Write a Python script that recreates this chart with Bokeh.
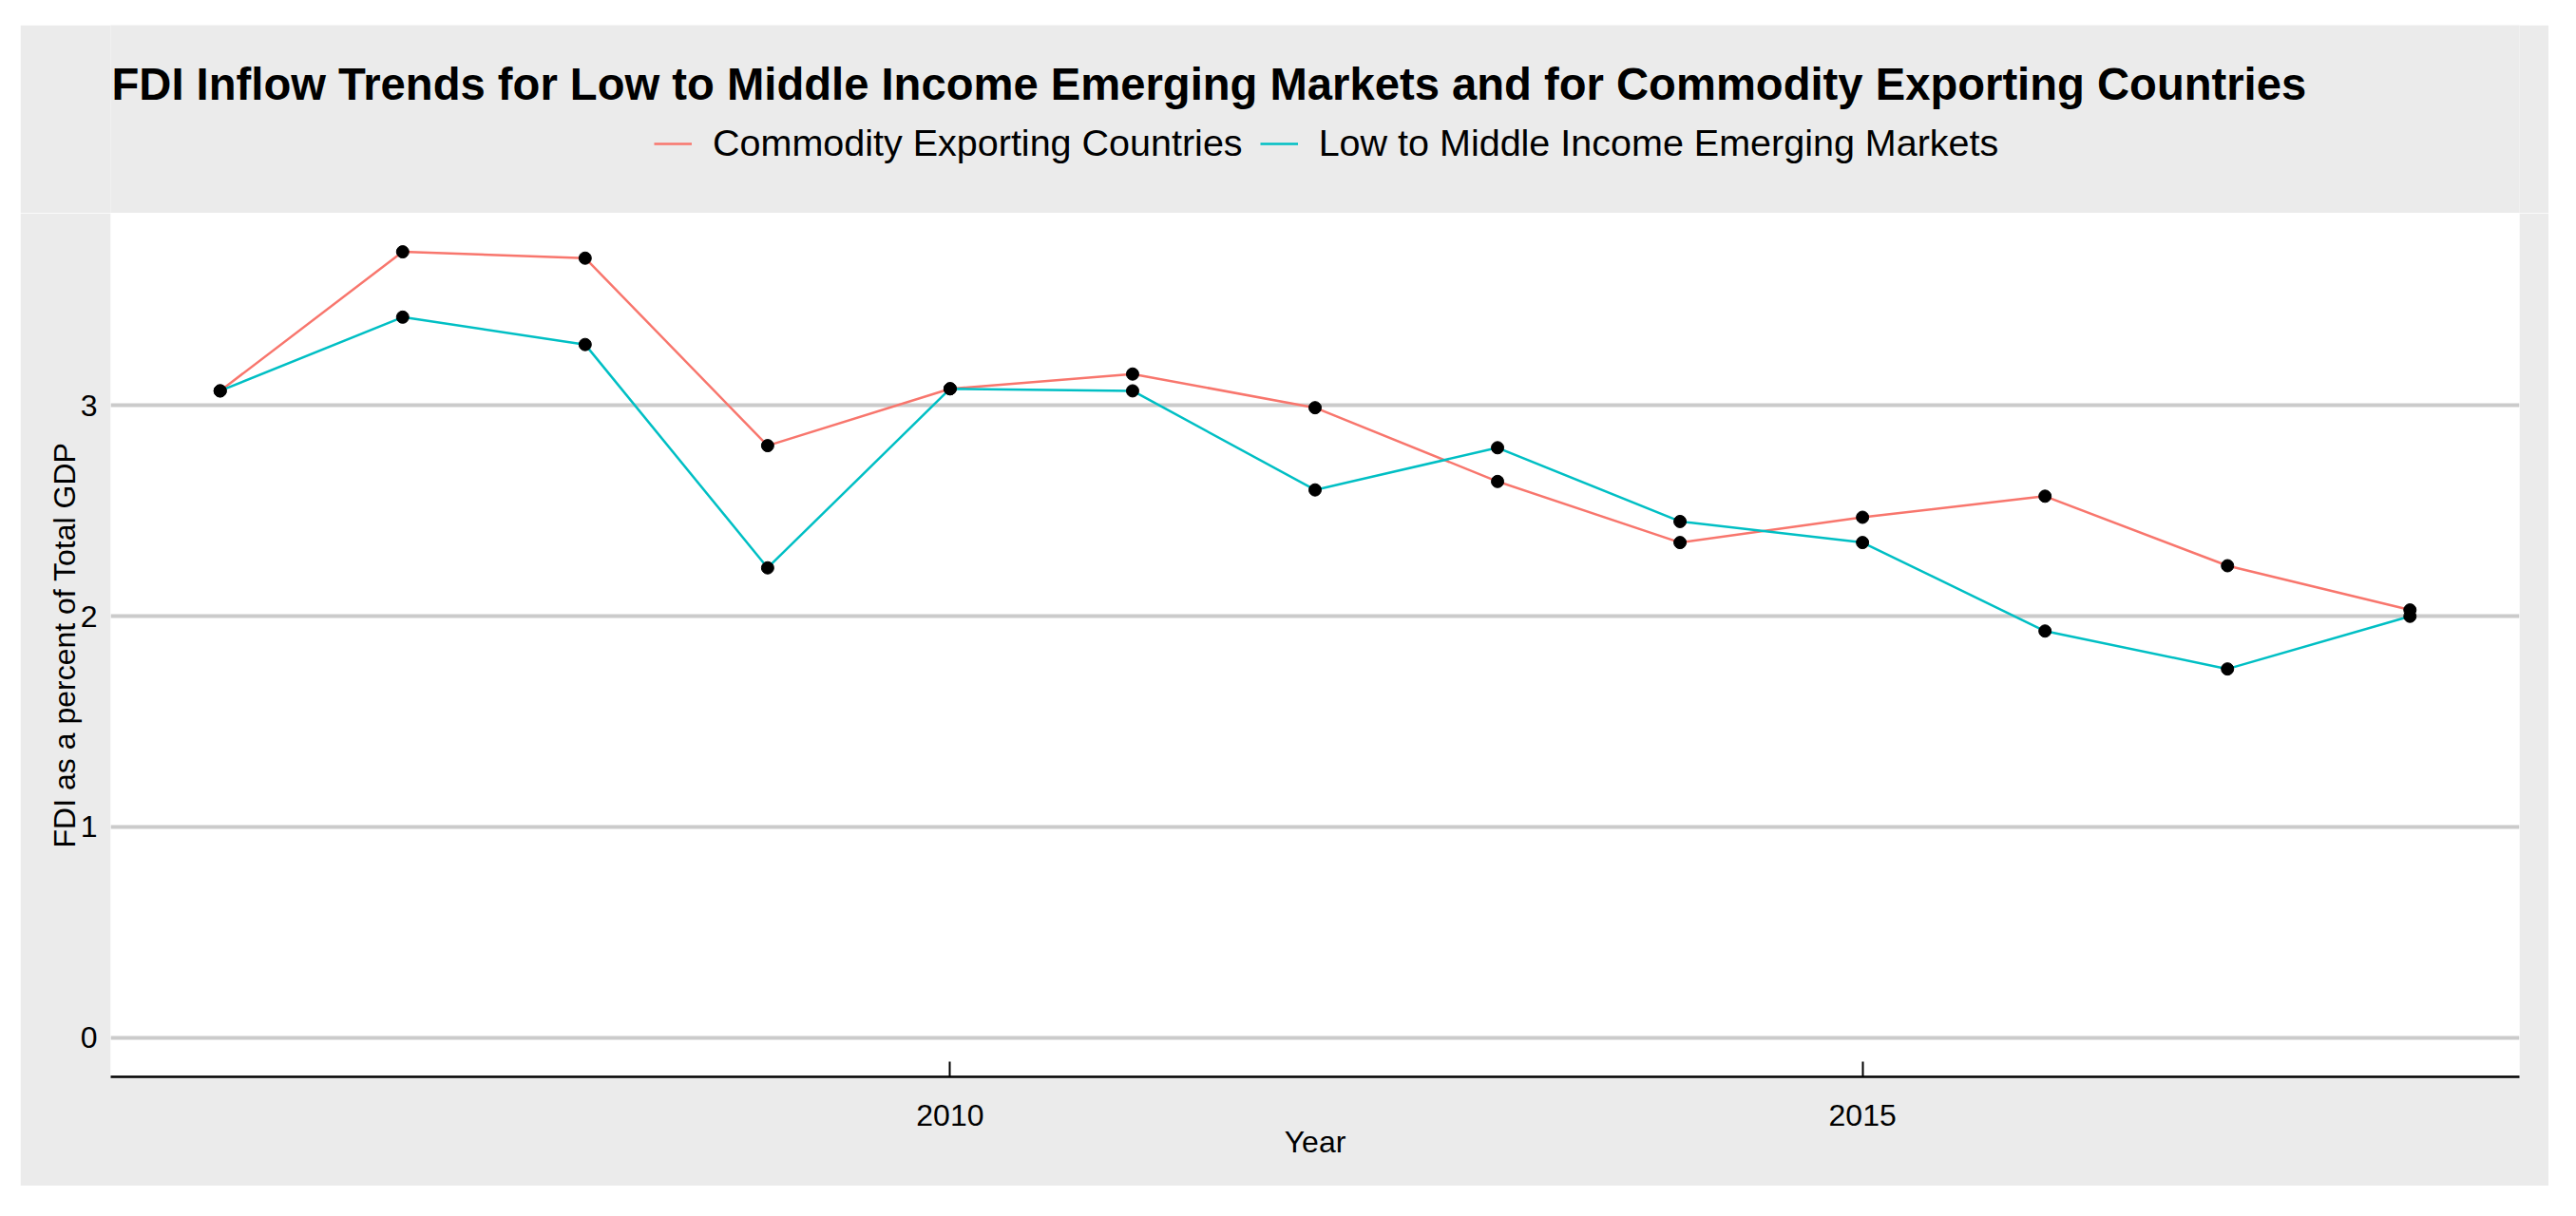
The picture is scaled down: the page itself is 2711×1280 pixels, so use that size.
from bokeh.plotting import figure
from bokeh.models import (Range1d, FixedTicker, Legend, LegendItem, Spacer, Label)
from bokeh.layouts import column, row
from bokeh.embed import file_html
from bokeh.resources import INLINE

# ---- data ----
years = [2006, 2007, 2008, 2009, 2010, 2011, 2012, 2013, 2014, 2015, 2016, 2017, 2018]
commodity = [3.07, 3.73, 3.70, 2.81, 3.08, 3.15, 2.99, 2.64, 2.35, 2.47, 2.57, 2.24, 2.03]
low_mid = [3.07, 3.42, 3.29, 2.23, 3.08, 3.07, 2.60, 2.80, 2.45, 2.35, 1.93, 1.75, 2.00]
series_names = ["Commodity Exporting Countries", "Low to Middle Income Emerging Markets"]
series_colors = ["#F8766D", "#00BFC4"]
x_ticks = [2010, 2015]
y_ticks = [0, 1, 2, 3]
title_text = "FDI Inflow Trends for Low to Middle Income Emerging Markets and for Commodity Exporting Countries"
x_label = "Year"
y_label = "FDI as a percent of Total GDP"

FONT = "Liberation Sans"
BG = "#EBEBEB"
W = 2661
HEADER_H = 198
MAIN_H = 1024

# ---------------- header: title + legend ----------------
hdr = figure(width=W, height=HEADER_H, output_backend="svg", toolbar_location=None,
             x_range=Range1d(0, 1), y_range=Range1d(0, 1),
             x_axis_type=None, y_axis_type=None,
             min_border_left=0, min_border_right=0, min_border_top=0, min_border_bottom=0)
hdr.background_fill_color = BG
hdr.border_fill_color = BG
hdr.outline_line_color = None
hdr.grid.visible = False

title = Label(x=1, y=136, x_units="screen", y_units="screen", text=title_text,
              text_font=FONT, text_font_style="bold", text_font_size="47.2px",
              text_color="black", text_align="left", text_baseline="alphabetic")
hdr.add_layout(title)

# legend key lines (kept outside the header's visible range; only their keys are shown)
k1 = hdr.line(x=[5, 6], y=[5, 6], line_color=series_colors[0], line_width=2.5)
k2 = hdr.line(x=[5, 6], y=[5, 6], line_color=series_colors[1], line_width=2.5)
legend = Legend(items=[LegendItem(label=series_names[0], renderers=[k1]),
                       LegendItem(label=series_names[1], renderers=[k2])],
                orientation="horizontal", location=(572, 51),
                label_text_font=FONT, label_text_font_size="39.5px", label_text_color="black",
                glyph_width=40, glyph_height=30, label_standoff=22, spacing=18,
                padding=0, margin=0, border_line_color=None, background_fill_alpha=0)
hdr.add_layout(legend, "center")

# ---------------- main plot ----------------
p = figure(width=W, height=MAIN_H, output_backend="svg", toolbar_location=None,
           x_range=Range1d(2005.4, 2018.6), y_range=Range1d(-0.186, 3.913),
           min_border_left=95, min_border_right=31, min_border_top=0, min_border_bottom=115)
p.border_fill_color = BG
p.background_fill_color = "white"
p.outline_line_color = None

p.xgrid.visible = False
p.ygrid.grid_line_color = "#CBCBCB"
p.ygrid.grid_line_width = 4
p.ygrid.ticker = FixedTicker(ticks=y_ticks)

xa = p.xaxis[0]
xa.ticker = FixedTicker(ticks=x_ticks)
xa.axis_line_color = "black"
xa.axis_line_width = 2.5
xa.major_tick_line_color = "black"
xa.major_tick_line_width = 2
xa.major_tick_in = 16
xa.major_tick_out = 0
xa.minor_tick_line_color = None
xa.minor_tick_in = 0
xa.minor_tick_out = 0
xa.major_label_text_font = FONT
xa.major_label_text_font_size = "32px"
xa.major_label_text_color = "black"
xa.major_label_standoff = 29
xa.axis_label = x_label
xa.axis_label_text_font = FONT
xa.axis_label_text_font_size = "32px"
xa.axis_label_text_font_style = "normal"
xa.axis_label_text_color = "black"
xa.axis_label_standoff = -4

ya = p.yaxis[0]
ya.ticker = FixedTicker(ticks=y_ticks)
ya.axis_line_color = None
ya.major_tick_line_color = None
ya.minor_tick_line_color = None
ya.major_tick_in = 0
ya.major_tick_out = 0
ya.minor_tick_in = 0
ya.minor_tick_out = 0
ya.major_label_text_font = FONT
ya.major_label_text_font_size = "32px"
ya.major_label_text_color = "black"
ya.major_label_standoff = 14
ya.axis_label = y_label
ya.axis_label_text_font = FONT
ya.axis_label_text_font_size = "32px"
ya.axis_label_text_font_style = "normal"
ya.axis_label_text_color = "black"
ya.axis_label_standoff = -4

p.line(years, commodity, line_color=series_colors[0], line_width=2.5)
p.line(years, low_mid, line_color=series_colors[1], line_width=2.5)
p.scatter(years, commodity, size=13, color="black")
p.scatter(years, low_mid, size=13, color="black")

layout = column(Spacer(height=26), row(Spacer(width=21), column(hdr, p)))
open("out.html", "w").write(file_html(layout, INLINE))
